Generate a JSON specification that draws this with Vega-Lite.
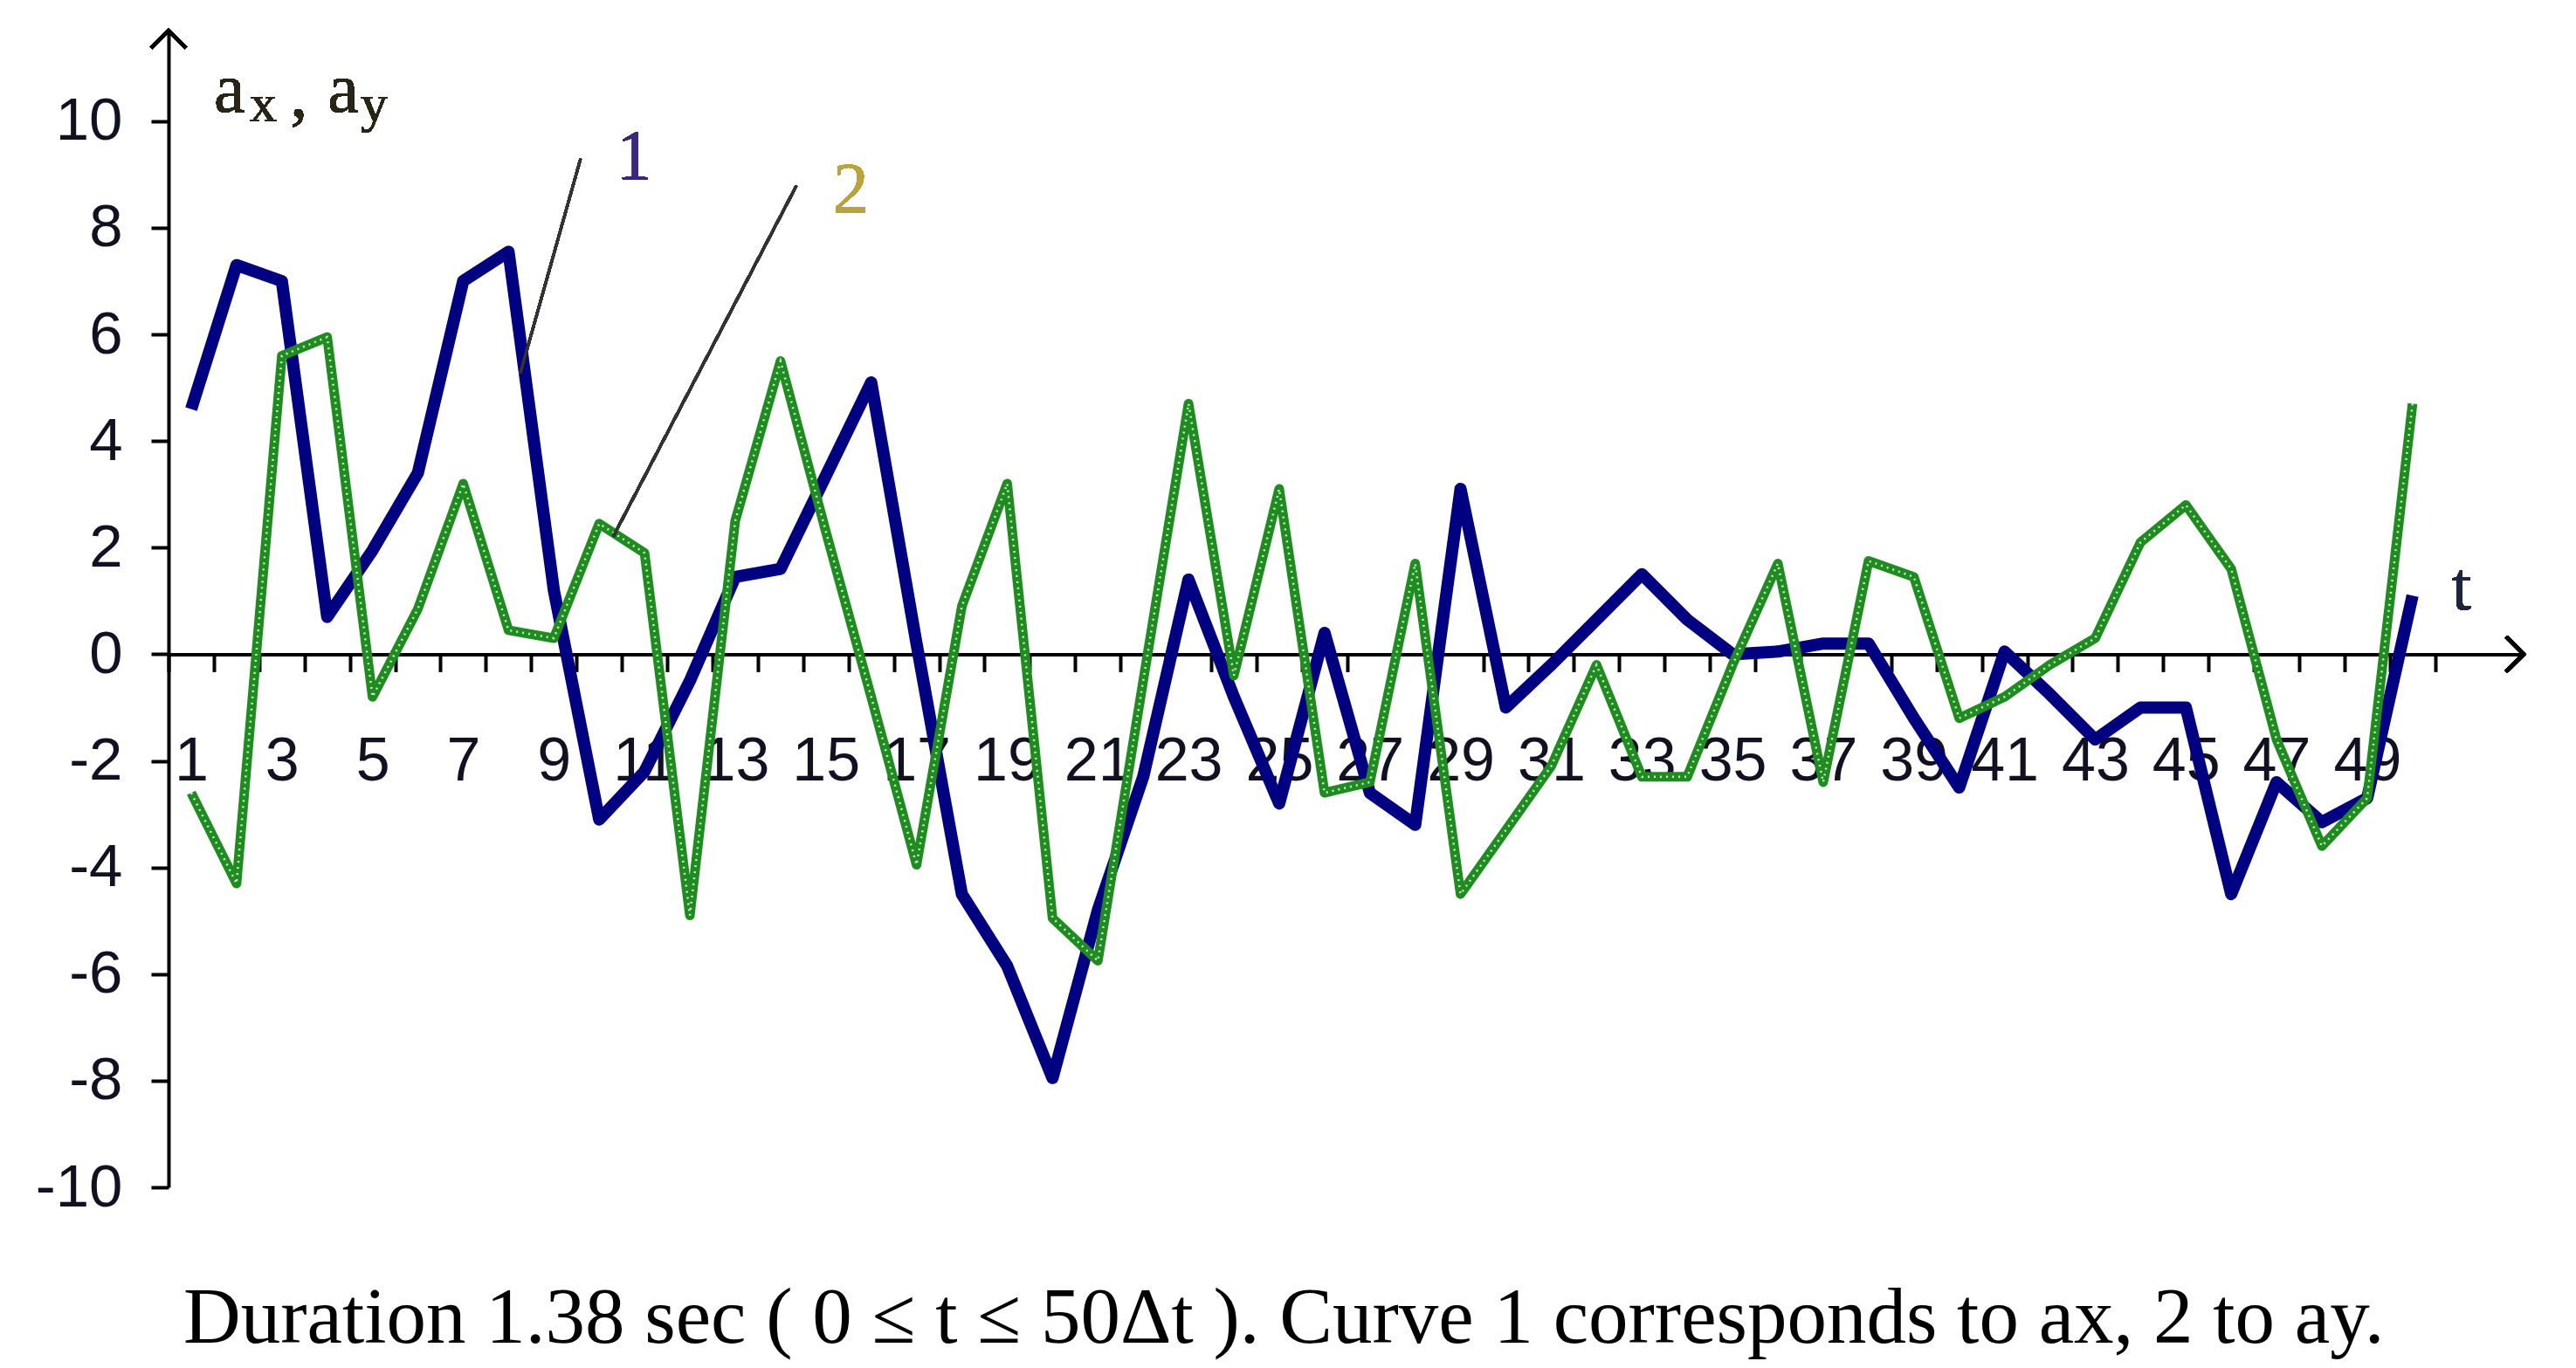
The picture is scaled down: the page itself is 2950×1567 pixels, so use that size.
{
  "$schema": "https://vega.github.io/schema/vega-lite/v6.json",
  "width": 2697,
  "height": 1325,
  "autosize": {"type": "none"},
  "padding": {"left": 193, "top": 35, "right": 60, "bottom": 207},
  "background": "white",
  "config": {"view": {"stroke": null}},
  "resolve": {"axis": {"x": "independent"}},
  "title": {
    "text": "Duration 1.38 sec ( 0 ≤ t ≤ 50Δt ). Curve 1 corresponds to ax, 2 to ay.",
    "orient": "bottom",
    "anchor": "start",
    "frame": "group",
    "dx": 17,
    "baseline": "alphabetic",
    "offset": 143,
    "font": "Liberation Serif",
    "fontSize": 91,
    "fontWeight": "normal",
    "color": "#000000"
  },
  "data": {
    "values": [
      {"t": 1, "ax": 4.6, "ay": -2.6},
      {"t": 2, "ax": 7.3, "ay": -4.3},
      {"t": 3, "ax": 7.0, "ay": 5.6},
      {"t": 4, "ax": 0.7, "ay": 5.95},
      {"t": 5, "ax": 1.95, "ay": -0.8},
      {"t": 6, "ax": 3.4, "ay": 0.85},
      {"t": 7, "ax": 7.0, "ay": 3.2},
      {"t": 8, "ax": 7.55, "ay": 0.45},
      {"t": 9, "ax": 1.2, "ay": 0.3},
      {"t": 10, "ax": -3.1, "ay": 2.45},
      {"t": 11, "ax": -2.2, "ay": 1.9},
      {"t": 12, "ax": -0.5, "ay": -4.9},
      {"t": 13, "ax": 1.45, "ay": 2.5},
      {"t": 14, "ax": 1.6, "ay": 5.5},
      {"t": 15, "ax": 3.35, "ay": 2.3},
      {"t": 16, "ax": 5.1, "ay": -0.8},
      {"t": 17, "ax": 0.2, "ay": -3.95},
      {"t": 18, "ax": -4.5, "ay": 0.9},
      {"t": 19, "ax": -5.85, "ay": 3.2},
      {"t": 20, "ax": -7.95, "ay": -4.95},
      {"t": 21, "ax": -4.8, "ay": -5.75},
      {"t": 22, "ax": -2.3, "ay": -0.5},
      {"t": 23, "ax": 1.4, "ay": 4.7},
      {"t": 24, "ax": -0.8, "ay": -0.4},
      {"t": 25, "ax": -2.8, "ay": 3.1},
      {"t": 26, "ax": 0.4, "ay": -2.6},
      {"t": 27, "ax": -2.6, "ay": -2.4},
      {"t": 28, "ax": -3.2, "ay": 1.7},
      {"t": 29, "ax": 3.1, "ay": -4.5},
      {"t": 30, "ax": -1.0, "ay": -3.3},
      {"t": 31, "ax": -0.2, "ay": -2.1},
      {"t": 32, "ax": 0.65, "ay": -0.2},
      {"t": 33, "ax": 1.5, "ay": -2.3},
      {"t": 34, "ax": 0.65, "ay": -2.3},
      {"t": 35, "ax": 0.0, "ay": -0.2},
      {"t": 36, "ax": 0.05, "ay": 1.7},
      {"t": 37, "ax": 0.2, "ay": -2.4},
      {"t": 38, "ax": 0.2, "ay": 1.75},
      {"t": 39, "ax": -1.2, "ay": 1.45},
      {"t": 40, "ax": -2.5, "ay": -1.2},
      {"t": 41, "ax": 0.05, "ay": -0.8},
      {"t": 42, "ax": -0.75, "ay": -0.2},
      {"t": 43, "ax": -1.6, "ay": 0.3},
      {"t": 44, "ax": -1.0, "ay": 2.1},
      {"t": 45, "ax": -1.0, "ay": 2.8},
      {"t": 46, "ax": -4.5, "ay": 1.6},
      {"t": 47, "ax": -2.4, "ay": -1.6},
      {"t": 48, "ax": -3.15, "ay": -3.6},
      {"t": 49, "ax": -2.7, "ay": -2.7},
      {"t": 50, "ax": 1.1, "ay": 4.7}
    ]
  },
  "layer": [
    {
      "mark": {"type": "line", "color": "#000080", "strokeWidth": 14, "strokeJoin": "round", "strokeCap": "butt"},
      "encoding": {
        "x": {
          "field": "t", "type": "quantitative",
          "scale": {"domain": [0.5, 52.45], "nice": false, "zero": false},
          "axis": {
            "orient": "bottom",
            "offset": -610.6,
            "title": null,
            "grid": false,
            "labels": false,
            "values": [0.5,1.5,2.5,3.5,4.5,5.5,6.5,7.5,8.5,9.5,10.5,11.5,12.5,13.5,14.5,15.5,16.5,17.5,18.5,19.5,20.5,21.5,22.5,23.5,24.5,25.5,26.5,27.5,28.5,29.5,30.5,31.5,32.5,33.5,34.5,35.5,36.5,37.5,38.5,39.5,40.5,41.5,42.5,43.5,44.5,45.5,46.5,47.5,48.5,49.5,50.5],
            "domainColor": "#000000",
            "domainWidth": 4,
            "tickColor": "#000000",
            "tickWidth": 4,
            "tickSize": 20
          }
        },
        "y": {
          "field": "ax", "type": "quantitative",
          "scale": {"domain": [-10, 11.7], "nice": false, "zero": false},
          "axis": {
            "title": null,
            "grid": false,
            "values": [-10, -8, -6, -4, -2, 0, 2, 4, 6, 8, 10],
            "labelExpr": "'' + datum.value",
            "domainColor": "#000000",
            "domainWidth": 4,
            "tickColor": "#000000",
            "tickWidth": 4,
            "tickSize": 20,
            "labelFont": "Liberation Sans",
            "labelFontSize": 69,
            "labelColor": "#111122",
            "labelPadding": 33,
            "labelOverlap": false
          }
        }
      }
    },
    {
      "mark": {"type": "line", "color": "#1f8c1f", "strokeWidth": 11, "strokeJoin": "round"},
      "encoding": {
        "x": {
          "field": "t", "type": "quantitative",
          "axis": {
            "orient": "bottom",
            "offset": -610.6,
            "title": null,
            "grid": false,
            "domain": false,
            "ticks": true,
            "tickSize": 20,
            "tickOpacity": 0,
            "values": [1,3,5,7,9,11,13,15,17,19,21,23,25,27,29,31,33,35,37,39,41,43,45,47,49],
            "labelExpr": "'' + datum.value",
            "labelFont": "Liberation Sans",
            "labelFontSize": 70,
            "labelColor": "#111122",
            "labelPadding": 69,
            "labelOverlap": false,
            "labelBound": false,
            "labelFlush": false
          }
        },
        "y": {"field": "ay", "type": "quantitative"}
      }
    },
    {
      "mark": {"type": "line", "color": "#ffffff", "strokeWidth": 2.5, "strokeDash": [2, 5], "opacity": 0.8},
      "encoding": {
        "x": {"field": "t", "type": "quantitative", "axis": null},
        "y": {"field": "ay", "type": "quantitative"}
      }
    },
    {
      "mark": {"type": "rule", "color": "#333333", "strokeWidth": 3},
      "encoding": {
        "x": {"datum": 9.59, "type": "quantitative", "axis": null},
        "y": {"datum": 9.3, "type": "quantitative"},
        "x2": {"datum": 8.26},
        "y2": {"datum": 5.27}
      }
    },
    {
      "mark": {"type": "rule", "color": "#333333", "strokeWidth": 3},
      "encoding": {
        "x": {"datum": 14.35, "type": "quantitative", "axis": null},
        "y": {"datum": 8.79, "type": "quantitative"},
        "x2": {"datum": 10.31},
        "y2": {"datum": 2.21}
      }
    },
    {
      "mark": {"type": "text", "text": "1", "font": "Liberation Serif", "fontSize": 82, "color": "#3b2580", "align": "center", "baseline": "middle"},
      "encoding": {
        "x": {"datum": 10.77, "type": "quantitative", "axis": null},
        "y": {"datum": 9.32, "type": "quantitative"}
      }
    },
    {
      "mark": {"type": "text", "text": "2", "font": "Liberation Serif", "fontSize": 82, "color": "#b8a33c", "align": "center", "baseline": "middle"},
      "encoding": {
        "x": {"datum": 15.55, "type": "quantitative", "axis": null},
        "y": {"datum": 8.71, "type": "quantitative"}
      }
    },
    {
      "mark": {"type": "text", "text": "a", "font": "Liberation Serif", "fontSize": 80, "color": "#2a2418", "align": "left", "baseline": "alphabetic"},
      "encoding": {
        "x": {"datum": 1.5, "type": "quantitative", "axis": null},
        "y": {"datum": 10.17, "type": "quantitative"}
      }
    },
    {
      "mark": {"type": "text", "text": "x", "font": "Liberation Serif", "fontSize": 62, "color": "#2a2418", "align": "left", "baseline": "alphabetic"},
      "encoding": {
        "x": {"datum": 2.29, "type": "quantitative", "axis": null},
        "y": {"datum": 10.0, "type": "quantitative"}
      }
    },
    {
      "mark": {"type": "text", "text": ",", "font": "Liberation Serif", "fontSize": 80, "color": "#2a2418", "align": "left", "baseline": "alphabetic"},
      "encoding": {
        "x": {"datum": 3.18, "type": "quantitative", "axis": null},
        "y": {"datum": 10.1, "type": "quantitative"}
      }
    },
    {
      "mark": {"type": "text", "text": "a", "font": "Liberation Serif", "fontSize": 80, "color": "#2a2418", "align": "left", "baseline": "alphabetic"},
      "encoding": {
        "x": {"datum": 4.01, "type": "quantitative", "axis": null},
        "y": {"datum": 10.17, "type": "quantitative"}
      }
    },
    {
      "mark": {"type": "text", "text": "y", "font": "Liberation Serif", "fontSize": 62, "color": "#2a2418", "align": "left", "baseline": "alphabetic"},
      "encoding": {
        "x": {"datum": 4.74, "type": "quantitative", "axis": null},
        "y": {"datum": 10.0, "type": "quantitative"}
      }
    },
    {
      "mark": {"type": "text", "text": "t", "font": "Liberation Serif", "fontSize": 80, "color": "#1c2440", "align": "center", "baseline": "alphabetic"},
      "encoding": {
        "x": {"datum": 51.08, "type": "quantitative", "axis": null},
        "y": {"datum": 0.84, "type": "quantitative"}
      }
    },
    {
      "mark": {"type": "point", "shape": "M -1 1 L 0 0 L 1 1", "filled": false, "stroke": "#000000", "strokeWidth": 4, "size": 1600, "opacity": 1},
      "encoding": {
        "x": {"datum": 0.5, "type": "quantitative", "axis": null},
        "y": {"datum": 11.7, "type": "quantitative"}
      }
    },
    {
      "mark": {"type": "point", "shape": "M -1 -1 L 0 0 L -1 1", "filled": false, "stroke": "#000000", "strokeWidth": 4, "size": 1600, "opacity": 1},
      "encoding": {
        "x": {"datum": 52.45, "type": "quantitative", "axis": null},
        "y": {"datum": 0, "type": "quantitative"}
      }
    }
  ]
}
